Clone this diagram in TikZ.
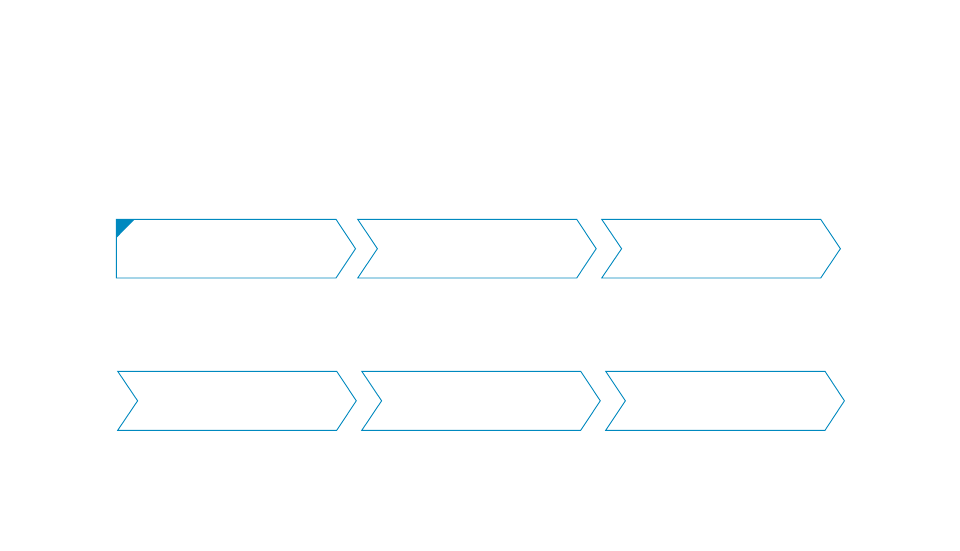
\documentclass[tikz,border=0pt]{standalone}
\definecolor{chevblue}{RGB}{0,137,191}
\begin{document}
\begin{tikzpicture}[x=1pt,y=-1pt,
  chev/.style={draw=chevblue,line width=0.9pt,line join=miter,fill=white}]
\useasboundingbox (0,0) rectangle (960,550);
% row 1
\draw[chev] (116.3,219.3) -- (336,219.3) -- (355.5,248.7) -- (336,278) -- (116.3,278) -- cycle;
\fill[chevblue] (116.3,219.3) -- (134.7,219.3) -- (116.3,238) -- cycle;
\draw[chev] (357.7,219.3) -- (576.7,219.3) -- (596.2,248.7) -- (576.7,278) -- (357.7,278) -- (377.4,248.7) -- cycle;
\draw[chev] (601.7,219.3) -- (820.7,219.3) -- (840.4,248.7) -- (820.7,278) -- (601.7,278) -- (621.6,248.7) -- cycle;
% row 2
\draw[chev] (117.7,371.3) -- (336.7,371.3) -- (356.3,400.8) -- (336.7,430.3) -- (117.7,430.3) -- (137.6,400.8) -- cycle;
\draw[chev] (361.8,371.3) -- (580.7,371.3) -- (600.3,400.8) -- (580.7,430.3) -- (361.8,430.3) -- (381.6,400.8) -- cycle;
\draw[chev] (605.7,371.3) -- (825,371.3) -- (844.4,400.8) -- (825,430.3) -- (605.7,430.3) -- (625.4,400.8) -- cycle;
\end{tikzpicture}
\end{document}
